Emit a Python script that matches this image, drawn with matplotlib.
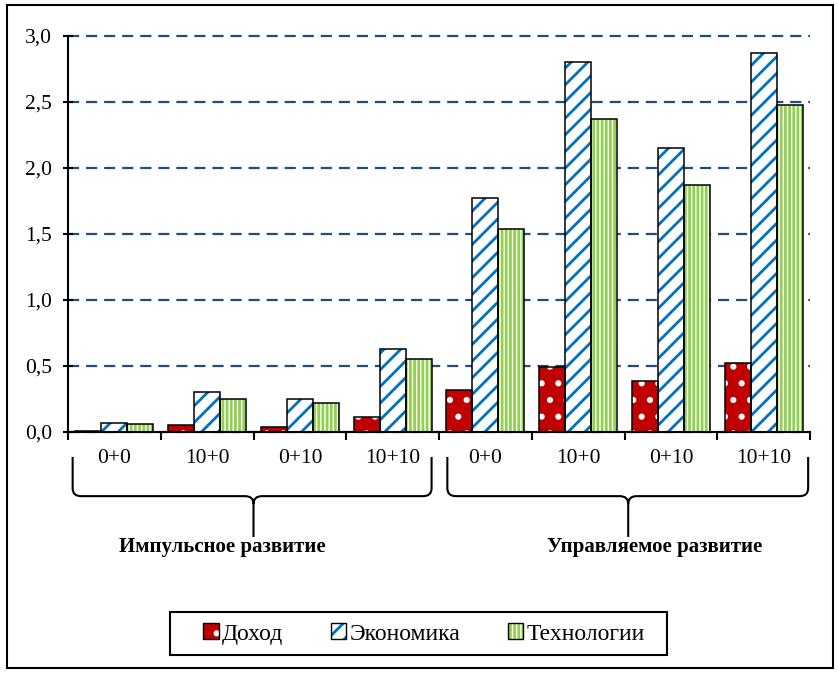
import numpy as np
import matplotlib
matplotlib.use("Agg")
from matplotlib import pyplot as plt
from matplotlib.patches import Patch, PathPatch, Rectangle
from matplotlib.path import Path
from matplotlib.legend_handler import HandlerTuple
import matplotlib.transforms as mtransforms

# data
categories = ["0+0", "10+0", "0+10", "10+10", "0+0", "10+0", "0+10", "10+10"]
group_names = ["Импульсное развитие", "Управляемое развитие"]
series_names = ["Доход", "Экономика", "Технологии"]
dohod = [0.01, 0.05, 0.04, 0.11, 0.32, 0.49, 0.39, 0.52]
ekonomika = [0.07, 0.30, 0.25, 0.63, 1.77, 2.80, 2.15, 2.87]
tekhnologii = [0.06, 0.25, 0.22, 0.55, 1.54, 2.37, 1.87, 2.48]
yticks = [0.0, 0.5, 1.0, 1.5, 2.0, 2.5, 3.0]
ytick_labels = ["0,0", "0,5", "1,0", "1,5", "2,0", "2,5", "3,0"]

# (face, hatch colour, hatch)
styles = [
    ("#C00000", "white", "."),
    ("white", "#0070C0", "//"),
    ("white", "#92D050", "||||"),
]

plt.rcParams["font.family"] = ["Liberation Serif", "DejaVu Serif"]
plt.rcParams["hatch.linewidth"] = 2.0
plt.rcParams["lines.scale_dashes"] = False

W, H = 838, 673
fig = plt.figure(figsize=(W / 100, H / 100), dpi=100)
fig.patch.set_facecolor("white")

ax = fig.add_axes([68 / W, 1 - 432 / H, (810 - 68) / W, (432 - 36) / H])

x = np.arange(len(categories))
width = 0.28
offsets = [-width, 0, width]
handles = []
for vals, off, (face, hcol, hatch) in zip([dohod, ekonomika, tekhnologii], offsets, styles):
    ax.bar(x + off, vals, width, facecolor=face, edgecolor=hcol, hatch=hatch,
           linewidth=0, zorder=2)
    ax.bar(x + off, vals, width, facecolor="none", edgecolor="black",
           linewidth=1.1, zorder=3)
    handles.append((Patch(facecolor=face, edgecolor=hcol, hatch=hatch, linewidth=0),
                    Patch(facecolor="none", edgecolor="black", linewidth=1.0)))

ax.set_xlim(-0.5, len(categories) - 0.5)
ax.set_ylim(0, 3.0)
ax.set_yticks(yticks)
ax.set_yticklabels(ytick_labels)
ax.yaxis.grid(True, color="#1F4E79", linewidth=1.6, linestyle=(0, (8, 5)))
for gl in ax.get_ygridlines():
    gl.set_clip_on(False)
ax.set_axisbelow(True)

ax.set_xticks(np.arange(-0.5, len(categories)), [""] * (len(categories) + 1))
ax.set_xticks(x, categories, minor=True)
ax.tick_params(axis="x", which="major", direction="out", length=6, width=1.5)
ax.tick_params(axis="x", which="minor", length=0, pad=12, labelsize=15.5)
ax.tick_params(axis="y", direction="inout", length=7, width=1.5, pad=8, labelsize=15.5)

for s in ["top", "right"]:
    ax.spines[s].set_visible(False)
for s in ["left", "bottom"]:
    ax.spines[s].set_linewidth(1.5)

# curly braces under the two groups
trans = mtransforms.blended_transform_factory(ax.transData, ax.transAxes)


def brace(x0, x1, xm, y_top=-0.063, y_mid=-0.162, y_bot=-0.265, rx=0.09, ry=0.02):
    verts = [
        (x0, y_top), (x0, y_mid + ry), (x0, y_mid), (x0 + rx, y_mid),
        (xm - rx, y_mid), (xm, y_mid), (xm, y_mid - ry), (xm, y_bot),
        (x1, y_top), (x1, y_mid + ry), (x1, y_mid), (x1 - rx, y_mid),
        (xm + rx, y_mid), (xm, y_mid), (xm, y_mid - ry),
    ]
    codes = [
        Path.MOVETO, Path.LINETO, Path.CURVE3, Path.CURVE3,
        Path.LINETO, Path.CURVE3, Path.CURVE3, Path.LINETO,
        Path.MOVETO, Path.LINETO, Path.CURVE3, Path.CURVE3,
        Path.LINETO, Path.CURVE3, Path.CURVE3,
    ]
    ax.add_patch(PathPatch(Path(verts, codes), transform=trans, facecolor="none",
                           edgecolor="black", linewidth=1.5, clip_on=False))


brace(-0.45, 3.42, 1.5)
brace(3.59, 7.48, 5.54)
ax.text(1.16, -0.29, group_names[0], transform=trans, ha="center", va="center",
        fontsize=15, fontweight="bold")
ax.text(5.82, -0.29, group_names[1], transform=trans, ha="center", va="center",
        fontsize=15, fontweight="bold")

# legend without its own frame; frame drawn separately to match the box size
leg = fig.legend(handles, series_names, loc="center", bbox_to_anchor=(424 / W, 1 - 634 / H),
                 ncol=3, fontsize=17, frameon=False,
                 handlelength=0.65, handleheight=0.65, handletextpad=0.15,
                 columnspacing=2.0, borderpad=0.2, borderaxespad=0,
                 handler_map={tuple: HandlerTuple(ndivide=1, pad=0)})
fig.add_artist(Rectangle((170 / W, 1 - 655 / H), (667 - 170) / W, (655 - 612) / H,
                         transform=fig.transFigure, facecolor="none",
                         edgecolor="black", linewidth=1.5))

# outer chart border
fig.add_artist(Rectangle((7 / W, 5 / H), (833 - 7) / W, (668 - 5) / H,
                         transform=fig.transFigure, facecolor="none",
                         edgecolor="black", linewidth=1.5))

fig.savefig("out.png", dpi=100)
